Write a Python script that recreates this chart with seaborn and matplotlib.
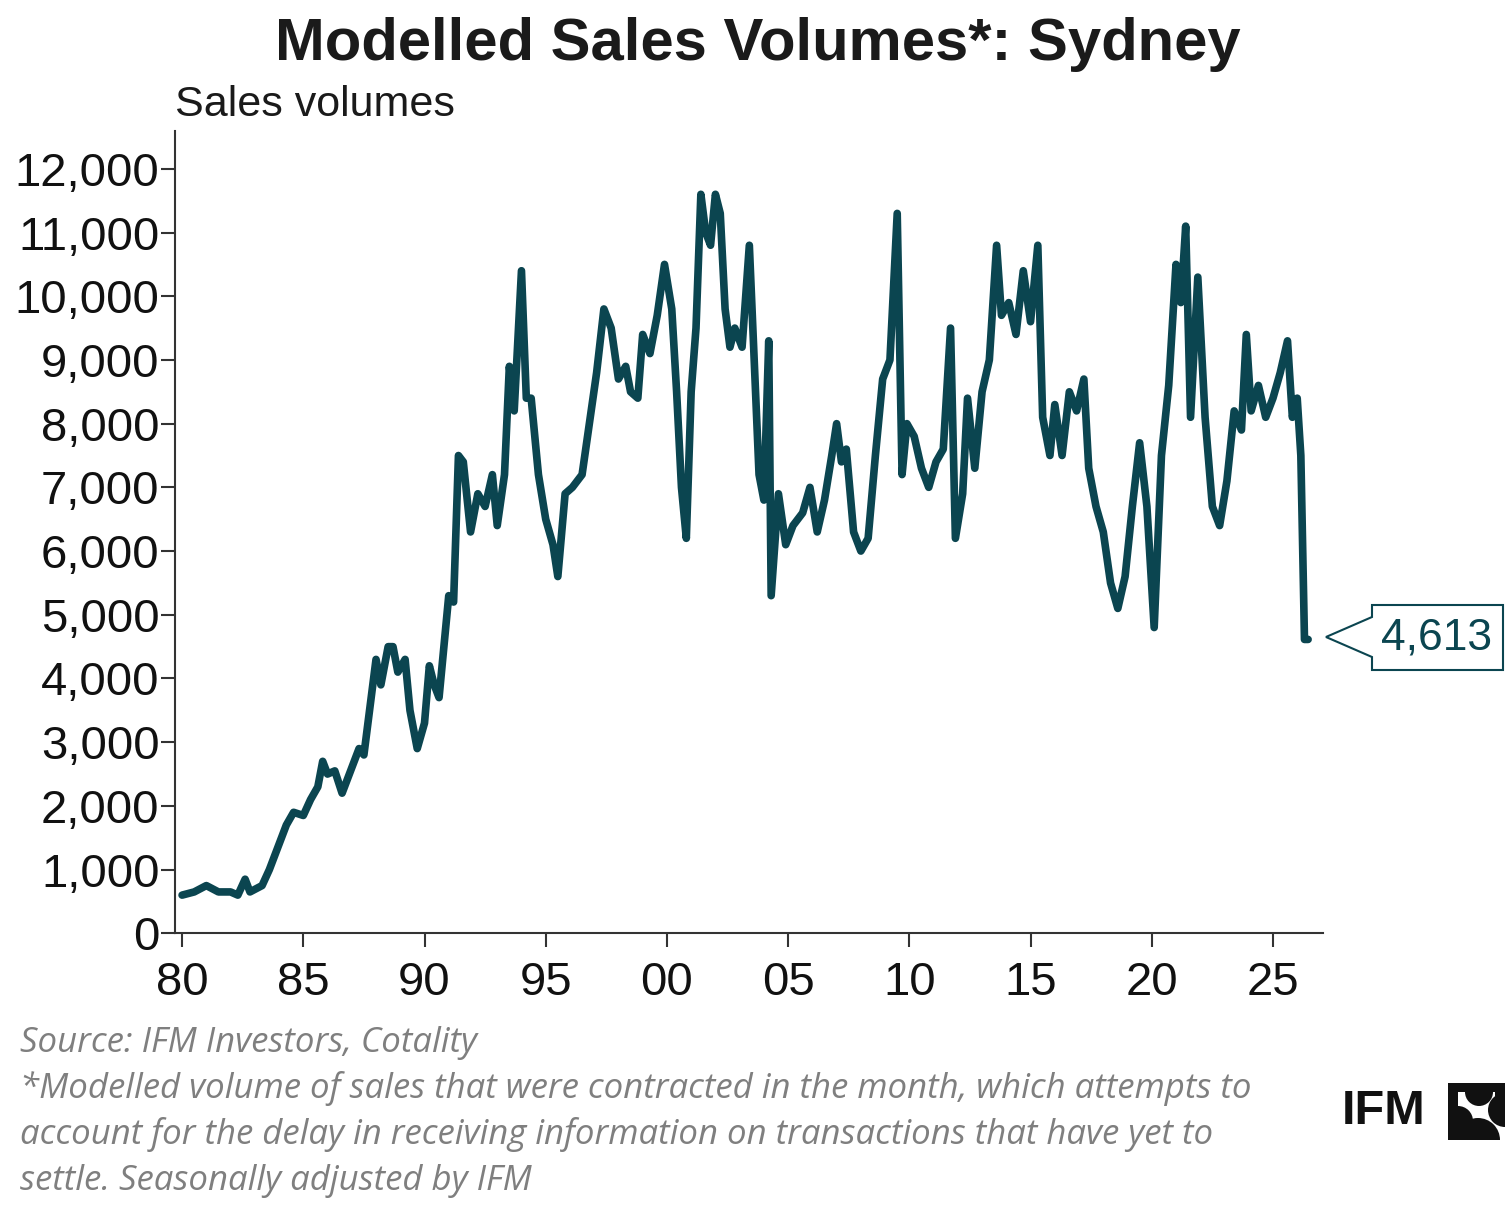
import matplotlib
matplotlib.use("Agg")
import matplotlib.pyplot as plt
from matplotlib.patches import Polygon, Wedge, Rectangle
import seaborn as sns
import pandas as pd

years = [1980,1980.5,1981,1981.5,1982,1982.3,1982.6,1982.8,1983.3,1983.6,1984,1984.3,1984.6,1985,1985.3,1985.6,1985.8,1986,1986.3,1986.6,1987,1987.3,1987.5,1987.7,1988,1988.2,1988.5,1988.7,1988.9,1989.2,1989.4,1989.7,1990,1990.2,1990.4,1990.6,1990.8,1991,1991.2,1991.4,1991.6,1991.9,1992.2,1992.5,1992.8,1993,1993.3,1993.5,1993.7,1994,1994.2,1994.4,1994.7,1995,1995.3,1995.5,1995.8,1996.1,1996.5,1996.8,1997.1,1997.4,1997.7,1998,1998.3,1998.5,1998.8,1999,1999.3,1999.6,1999.9,2000.2,2000.4,2000.6,2000.8,2001,2001.2,2001.4,2001.6,2001.8,2002,2002.2,2002.4,2002.6,2002.8,2003.1,2003.4,2003.6,2003.8,2004,2004.2,2004.3,2004.6,2004.9,2005.2,2005.6,2005.9,2006.2,2006.5,2006.8,2007,2007.2,2007.4,2007.7,2008,2008.3,2008.6,2008.9,2009.2,2009.5,2009.7,2009.9,2010.2,2010.5,2010.8,2011.1,2011.4,2011.7,2011.9,2012.2,2012.4,2012.7,2013,2013.3,2013.6,2013.8,2014.1,2014.4,2014.7,2015,2015.3,2015.5,2015.8,2016,2016.3,2016.6,2016.9,2017.2,2017.4,2017.7,2018,2018.3,2018.6,2018.9,2019.2,2019.5,2019.8,2020.1,2020.4,2020.7,2021,2021.2,2021.4,2021.6,2021.9,2022.2,2022.5,2022.8,2023.1,2023.4,2023.7,2023.9,2024.1,2024.4,2024.7,2025,2025.3,2025.6,2025.8,2026.0,2026.15,2026.3,2026.45]
sales = [600,650,750,650,650,600,850,650,750,1000,1400,1700,1900,1850,2100,2300,2700,2500,2550,2200,2600,2900,2800,3400,4300,3900,4500,4500,4100,4300,3500,2900,3300,4200,3900,3700,4500,5300,5200,7500,7400,6300,6900,6700,7200,6400,7200,8900,8200,10400,8400,8400,7200,6500,6100,5600,6900,7000,7200,8000,8800,9800,9500,8700,8900,8500,8400,9400,9100,9700,10500,9800,8500,7000,6200,8500,9500,11600,11000,10800,11600,11300,9800,9200,9500,9200,10800,9000,7200,6800,9300,5300,6900,6100,6400,6600,7000,6300,6800,7500,8000,7400,7600,6300,6000,6200,7500,8700,9000,11300,7200,8000,7800,7300,7000,7400,7600,9500,6200,6900,8400,7300,8500,9000,10800,9700,9900,9400,10400,9600,10800,8100,7500,8300,7500,8500,8200,8700,7300,6700,6300,5500,5100,5600,6700,7700,6700,4800,7500,8600,10500,9900,11100,8100,10300,8100,6700,6400,7100,8200,7900,9400,8200,8600,8100,8400,8800,9300,8100,8400,7500,4613,4613]
tick_years = [1980,1985,1990,1995,2000,2005,2010,2015,2020,2025]
tick_labels = ["80","85","90","95","00","05","10","15","20","25"]

df = pd.DataFrame({"year": years, "sales": sales})
sns.set_style("white")
plt.rcParams['font.family'] = ['Liberation Sans', 'DejaVu Sans']
col = "#0b4550"

fig = plt.figure(figsize=(15.07, 12.09), dpi=100)
ax = fig.add_axes([0.116, 0.228, 0.762, 0.664])
sns.lineplot(data=df, x="year", y="sales", ax=ax, color=col, lw=5.5)
ax.set_xlim(1979.7, 2027.07)
ax.set_ylim(0, 12600)
ax.set_xticks(tick_years, tick_labels)
ax.set_yticks(range(0, 12001, 1000), [f"{v:,}" for v in range(0, 12001, 1000)])
ax.tick_params(axis='both', labelsize=34, colors="#333333", direction='out', length=10, width=1.5,
               labelcolor="#111111", left=True, bottom=True)
ax.tick_params(axis='y', pad=1)
ax.tick_params(axis='x', pad=10)
for s in ["top", "right"]:
    ax.spines[s].set_visible(False)
for s in ["left", "bottom"]:
    ax.spines[s].set_color("#333333"); ax.spines[s].set_linewidth(1.5)
ax.set_xlabel(""); ax.set_ylabel("")

fig.text(0.503, 0.963, "Modelled Sales Volumes*: Sydney", ha="center", va="center", fontsize=43, fontweight="bold", color="#1a1a1a")
fig.text(0.116, 0.913, "Sales volumes", ha="left", va="center", fontsize=31, color="#1a1a1a")

# overlay in pixel coords (y measured from top via H - py)
H = 1209
ov = fig.add_axes([0, 0, 1, 1], zorder=5)
ov.set_xlim(0, 1507); ov.set_ylim(0, H); ov.axis("off"); ov.patch.set_alpha(0)
def P(x, y):
    return (x, H - y)
ov.add_patch(Polygon([P(1326, 637), P(1372, 617), P(1372, 605), P(1503, 605), P(1503, 670), P(1372, 670), P(1372, 657)],
                     closed=True, fc="white", ec=col, lw=1.5))
ov.text(*P(1437, 638), f"{sales[-1]:,}", fontsize=32, color=col, ha="center", va="center")

foot = dict(fontsize=25, style="italic", color="#7f7f7f", family=["Open Sans", "DejaVu Sans"])
for yy, t in [(1043, "Source: IFM Investors, Cotality"),
              (1089, "*Modelled volume of sales that were contracted in the month, which attempts to"),
              (1135, "account for the delay in receiving information on transactions that have yet to"),
              (1181, "settle. Seasonally adjusted by IFM")]:
    ov.text(*P(20, yy), t, va="center", ha="left", **foot)

ov.text(*P(1342, 1112), "IFM", fontsize=35, fontweight="bold", color="#111111", va="center", ha="left")
k = "#111111"
# logo: square 1448..1505 x 1083..1140
ov.add_patch(Rectangle(P(1448, 1140), 10, 57, fc=k, ec="none"))          # left bar
ov.add_patch(Rectangle(P(1448, 1092), 57, 9, fc=k, ec="none"))           # top bar
ov.add_patch(Wedge(P(1479, 1092), 14, 180, 360, fc=k, ec="none"))      # top bulge down
ov.add_patch(Wedge(P(1458, 1121), 15, 270, 90, fc=k, ec="none"))       # left bulge right
ov.add_patch(Wedge(P(1505, 1110), 17, 90, 270, fc=k, ec="none"))       # right bulge left
ov.add_patch(Wedge(P(1478, 1140), 22, 0, 180, fc=k, ec="none"))        # bottom bulge up
ov.add_patch(Rectangle(P(1495, 1118), 10, 35, fc=k, ec="none"))          # right upper bar
fig.savefig("out.png", dpi=100)
